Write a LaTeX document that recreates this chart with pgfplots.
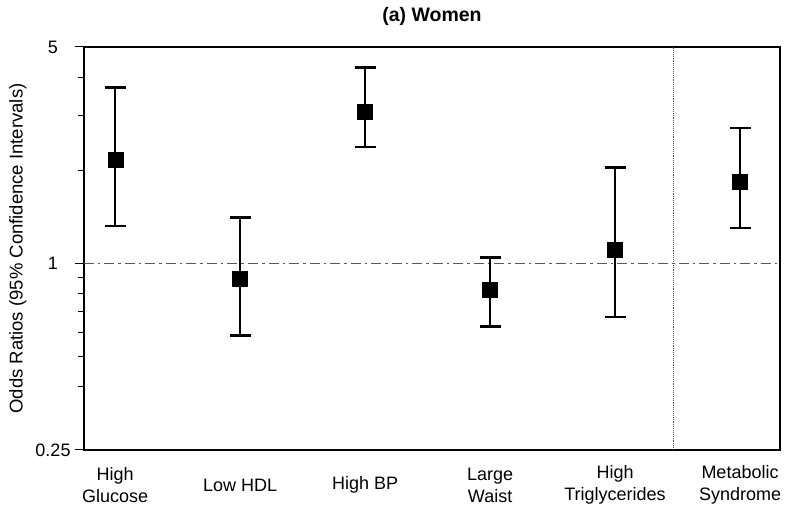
\documentclass[border=0pt]{standalone}
\usepackage{fontspec}
\setmainfont{Liberation Sans}
\usepackage{pgfplots}
\pgfplotsset{compat=1.18}

% odds ratio with 95% CI, categories at 0..5
\pgfplotstableread{
x  or    lo    hi
0  2.16  1.32  3.70
1  0.89  0.585 1.41
2  3.10  2.38  4.29
3  0.826 0.625 1.045
4  1.11  0.672 2.04
5  1.84  1.30  2.74
}\ordata

\newcommand{\ci}[3]{\addplot[black, line width=2.5pt, mark=-, mark size=10.5pt,
  mark options={solid, line width=2.5pt}] coordinates {(#1,#2) (#1,#3)};}

\begin{document}
\begin{tikzpicture}
\begin{axis}[
    name=ax,
    scale only axis,
    width=696pt, height=403pt,
    ymode=log, ymin=0.25, ymax=5,
    xmin=-0.25, xmax=5.32,
    ytick={0.25,1,5}, yticklabels={0.25,1,5},
    xtick={0,1,2,3,4,5},
    xticklabels={{High\\Glucose},{Low HDL},{High BP},{Large\\Waist},{High\\Triglycerides},{Metabolic\\Syndrome}},
    xtick style={draw=none},
    ytick pos=left,
    tick align=outside,
    major tick length=9pt,
    ytick style={draw=black, line width=1pt},
    axis line style={line width=1.2pt},
    tick label style={font=\fontsize{18}{22}\selectfont},
    xticklabel style={align=center, anchor=center, yshift=-26pt},
    yticklabel style={anchor=center, xshift=-22pt},
    ylabel={Odds Ratios (95\% Confidence Intervals)},
    ylabel style={font=\fontsize{18.5}{20}\selectfont, at={(axis description cs:-0.095,0.5)}, anchor=center},
    title={(a) Women},
    title style={font=\fontsize{19.5}{22}\selectfont\bfseries, at={(0.5,1)}, anchor=south, yshift=12pt},
    clip=false,
]
\addplot[black!65, line width=1.5pt, dash pattern=on 10pt off 4pt on 2.5pt off 4pt] coordinates {(-0.25,1) (5.32,1)};
\addplot[black!70, line width=0.9pt, densely dotted] coordinates {(4.47,0.25) (4.47,5)};
% tick marks on the left axis, outside
\addplot[only marks, mark=-, mark size=4.5pt, mark options={xshift=-4.5pt, line width=1pt, black}] coordinates {(-0.25,0.25) (-0.25,1) (-0.25,5)};
\addplot[only marks, mark=-, mark size=3pt, mark options={xshift=-3pt, line width=0.8pt, black}] coordinates {(-0.25,0.4) (-0.25,0.5) (-0.25,0.6) (-0.25,0.7) (-0.25,0.8) (-0.25,0.9) (-0.25,2) (-0.25,3) (-0.25,4)};
\ci{0}{1.32}{3.70}
\ci{1}{0.585}{1.41}
\ci{2}{2.38}{4.29}
\ci{3}{0.625}{1.045}
\ci{4}{0.672}{2.04}
\ci{5}{1.30}{2.74}
\addplot[only marks, mark=square*, mark size=7.5pt, black] table[x=x, y=or] {\ordata};
\end{axis}
\path ([xshift=-84pt,yshift=-68pt]ax.south west) rectangle ([xshift=13pt,yshift=47pt]ax.north east);
\end{tikzpicture}
\end{document}
